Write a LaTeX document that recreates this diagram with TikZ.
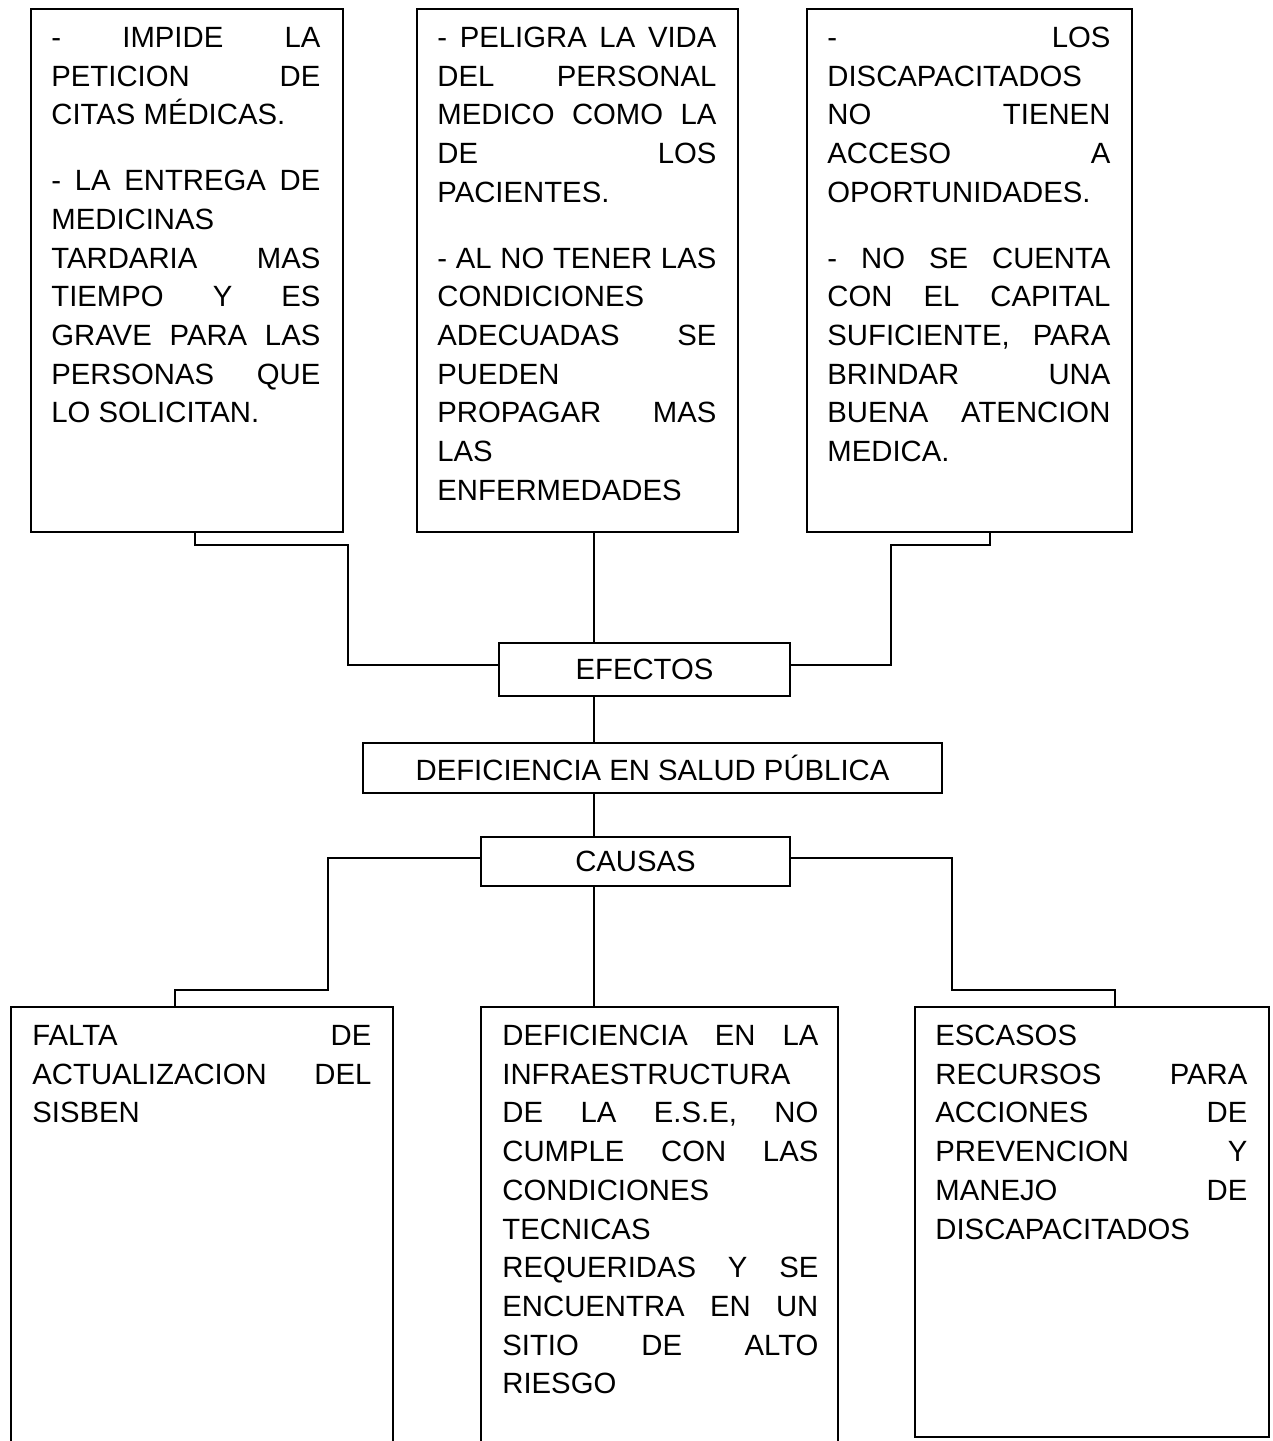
\documentclass[tikz,border=0pt]{standalone}
\usepackage{fontspec}
\setmainfont{Liberation Sans}
\usetikzlibrary{calc}
\setlength{\parskip}{0pt}
\newcommand\jline[1]{\makebox[\linewidth][s]{#1}\par}
\newcommand\pline[1]{\mbox{#1}\par}
\newcommand\pgap{\vspace{13.5pt}}
\begin{document}
\begin{tikzpicture}[x=0.5pt,y=-0.5pt,
  box/.style={draw=black, line width=1pt, inner sep=0pt, anchor=north west},
  conn/.style={draw=black, line width=0.75pt},
  txt/.style={inner sep=0pt, anchor=base west, font=\fontsize{14.65}{19.35}\selectfont},
  ctext/.style={font=\fontsize{14.65}{19.35}\selectfont}]
\fill[white] (0,0) rectangle (1273,1441);
\useasboundingbox (0,0) rectangle (1273,1441);
\begin{scope}
\clip (0,0) rectangle (1273,1441);
% effect boxes
\node[box, minimum width=156pt, minimum height=261.5pt] (e1) at (30,8) {};
\node[box, minimum width=160.5pt, minimum height=261.5pt] (e2) at (416,8) {};
\node[box, minimum width=162.5pt, minimum height=261.5pt] (e3) at (806,8) {};
% central boxes
\node[box, ctext, minimum width=145.5pt, minimum height=26.5pt] (ef) at (498,642) {EFECTOS};
\node[box, ctext, minimum width=289.5pt, minimum height=25pt] (def) at (362,742) {DEFICIENCIA EN SALUD PÚBLICA};
\node[box, ctext, minimum width=154.5pt, minimum height=24.5pt] (ca) at (480,836) {CAUSAS};
% cause boxes
\node[box, minimum width=191pt, minimum height=227pt] (c1) at (10,1006) {};
\node[box, minimum width=178.5pt, minimum height=227pt] (c2) at (480,1006) {};
\node[box, minimum width=177pt, minimum height=215pt] (c3) at (914,1006) {};
\end{scope}

% texts
\node[txt] (e1t) at (51,47.5) {\parbox[t]{134.5pt}{%
\jline{- IMPIDE LA}
\jline{PETICION DE}
\pline{CITAS MÉDICAS.}
\pgap
\jline{- LA ENTREGA DE}
\pline{MEDICINAS}
\jline{TARDARIA MAS}
\jline{TIEMPO Y ES}
\jline{GRAVE PARA LAS}
\jline{PERSONAS QUE}
\pline{LO SOLICITAN.}}};

\node[txt] (e2t) at (437,47.5) {\parbox[t]{139.5pt}{%
\jline{- PELIGRA LA VIDA}
\jline{DEL PERSONAL}
\jline{MEDICO COMO LA}
\jline{DE LOS}
\pline{PACIENTES.}
\pgap
\jline{- AL NO TENER LAS}
\pline{CONDICIONES}
\jline{ADECUADAS SE}
\pline{PUEDEN}
\jline{PROPAGAR MAS}
\pline{LAS}
\pline{ENFERMEDADES}}};

\node[txt] (e3t) at (827,47.5) {\parbox[t]{141.5pt}{%
\jline{- LOS}
\pline{DISCAPACITADOS}
\jline{NO TIENEN}
\jline{ACCESO A}
\pline{OPORTUNIDADES.}
\pgap
\jline{- NO SE CUENTA}
\jline{CON EL CAPITAL}
\jline{SUFICIENTE, PARA}
\jline{BRINDAR UNA}
\jline{BUENA ATENCION}
\pline{MEDICA.}}};

\node[txt] (c1t) at (32,1045.5) {\parbox[t]{169.5pt}{%
\jline{FALTA DE}
\jline{ACTUALIZACION DEL}
\pline{SISBEN}}};

\node[txt] (c2t) at (502,1045.5) {\parbox[t]{158pt}{%
\jline{DEFICIENCIA EN LA}
\pline{INFRAESTRUCTURA}
\jline{DE LA E.S.E, NO}
\jline{CUMPLE CON LAS}
\pline{CONDICIONES}
\pline{TECNICAS}
\jline{REQUERIDAS Y SE}
\jline{ENCUENTRA EN UN}
\jline{SITIO DE ALTO}
\pline{RIESGO}}};

\node[txt] (c3t) at (935,1045.5) {\parbox[t]{156pt}{%
\pline{ESCASOS}
\jline{RECURSOS PARA}
\jline{ACCIONES DE}
\jline{PREVENCION Y}
\jline{MANEJO DE}
\pline{DISCAPACITADOS}}};

% connectors
\coordinate (cx) at (594,0);
\coordinate (a1) at (195,545);
\coordinate (a2) at (348,545);
\coordinate (b1) at (990,545);
\coordinate (b2) at (891,545);
\coordinate (d1) at (328,990);
\coordinate (d2) at (175,990);
\coordinate (f1) at (952,990);
\coordinate (f2) at (1115,990);

\draw[conn] (e1.south -| a1) -- (a1) -- (a2) |- ([yshift=2.2pt]ef.west);
\draw[conn] (e2.south -| cx) -- (ef.north -| cx);
\draw[conn] (e3.south -| b1) -- (b1) -- (b2) |- ([yshift=2.2pt]ef.east);
\draw[conn] (ef.south -| cx) -- (def.north -| cx);
\draw[conn] (def.south -| cx) -- (ca.north -| cx);
\draw[conn] ([yshift=1.75pt]ca.west) -| (d1) -- (d2) -- (c1.north -| d2);
\draw[conn] (ca.south -| cx) -- (c2.north -| cx);
\draw[conn] ([yshift=1.75pt]ca.east) -| (f1) -- (f2) -- (c3.north -| f2);
\end{tikzpicture}
\end{document}
